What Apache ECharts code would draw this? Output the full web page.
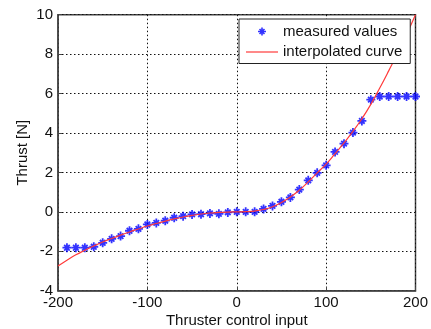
<!DOCTYPE html>
<html>
<head>
<meta charset="utf-8">
<script src="https://cdn.jsdelivr.net/npm/echarts@6/dist/echarts.min.js"></script>
<style>
html,body{margin:0;padding:0;background:#fff;}
#chart{width:431px;height:329px;}
</style>
</head>
<body>
<div id="chart"></div>
<script>
// Measured values (thruster control input -> thrust [N])
var measuredX = [-190,-180,-170,-160,-150,-140,-130,-120,-110,-100,-90,-80,-70,-60,-50,-40,-30,-20,-10,0,
                 10,20,30,40,50,60,70,80,90,100,110,120,130,140,150,160,170,180,190,200];
var measuredY = [-1.82,-1.82,-1.82,-1.77,-1.57,-1.37,-1.23,-0.96,-0.86,-0.64,-0.56,-0.45,-0.30,-0.22,-0.13,-0.12,-0.08,-0.10,-0.03,0.00,
                 0.00,0.00,0.15,0.30,0.51,0.73,1.13,1.60,1.98,2.36,3.04,3.46,4.02,4.61,5.69,5.85,5.85,5.85,5.85,5.85];
// Interpolated curve
var curveX = [-200,-190,-180,-170,-160,-150,-140,-130,-120,-110,-100,-90,-80,-70,-60,-50,-40,-30,-20,-10,0,
              10,20,30,40,50,60,70,80,90,100,110,120,130,140,150,160,170,180,190,200];
var curveY = [-2.75,-2.45,-2.18,-1.95,-1.73,-1.53,-1.35,-1.18,-1.02,-0.87,-0.72,-0.59,-0.47,-0.36,-0.26,-0.18,-0.11,-0.06,-0.03,-0.01,0.00,
              0.01,0.04,0.12,0.26,0.47,0.75,1.10,1.52,1.98,2.42,2.95,3.50,4.08,4.72,5.45,6.28,7.15,8.05,9.00,10.00];
var seriesNames = ['measured values', 'interpolated curve'];
var xTicks = {min: -200, max: 200, interval: 100};
var yTicks = {min: -4, max: 10, interval: 2};
var xLabel = 'Thruster control input';
var yLabel = 'Thrust [N]';

var asterisk = 'path://M4,0 L6,0 L6,10 L4,10 Z M0,4 L10,4 L10,6 L0,6 Z M1.2,2.6 L2.6,1.2 L8.8,7.4 L7.4,8.8 Z M7.4,1.2 L8.8,2.6 L2.6,8.8 L1.2,7.4 Z';
var lineIcon = 'path://M0,3.4 L32,3.4 L32,4.6 L0,4.6 Z';
var font = 'Liberation Sans, Arial, Helvetica, sans-serif';
var txt = '#111';

var chart = echarts.init(document.getElementById('chart'), null, {renderer: 'canvas'});
var axisCommon = {
  axisLine: {show: true, onZero: false, lineStyle: {color: '#444', width: 1.5}},
  axisTick: {show: true, inside: true, length: 4, lineStyle: {color: '#444'}},
  splitLine: {show: true, lineStyle: {color: '#111', type: [1.5, 2.5], width: 1}},
  axisLabel: {color: txt, fontFamily: font, fontSize: 15, margin: 5},
  nameTextStyle: {color: txt, fontFamily: font, fontSize: 15},
  nameMoveOverlap: false
};
chart.setOption({
  animation: false,
  backgroundColor: '#fff',
  grid: {left: 58, right: 15.5, top: 14.7, bottom: 38.3, outerBoundsMode: 'none', containLabel: false,
         show: true, borderColor: '#444', borderWidth: 1.5, backgroundColor: '#fff'},
  xAxis: Object.assign({}, axisCommon, {
    type: 'value', min: xTicks.min, max: xTicks.max, interval: xTicks.interval,
    name: xLabel, nameLocation: 'middle', nameGap: 23
  }),
  yAxis: Object.assign({}, axisCommon, {
    type: 'value', min: yTicks.min, max: yTicks.max, interval: yTicks.interval,
    name: yLabel, nameLocation: 'middle', nameGap: 28
  }),
  legend: {
    left: 239, top: 19, orient: 'vertical',
    backgroundColor: '#fff', borderColor: '#222', borderWidth: 1,
    padding: [5, 8, 4, 7], itemGap: 5.5, itemWidth: 32, itemHeight: 8,
    textStyle: {color: txt, fontFamily: font, fontSize: 15},
    data: [
      {name: seriesNames[0], icon: asterisk},
      {name: seriesNames[1], icon: lineIcon}
    ]
  },
  series: [
    {
      name: seriesNames[0], type: 'scatter', symbol: asterisk, symbolSize: 9,
      itemStyle: {color: '#0000ff'},
      data: measuredX.map(function (x, i) { return [x, measuredY[i]]; }),
      z: 2
    },
    {
      name: seriesNames[1], type: 'line', smooth: true, showSymbol: false, symbol: 'none',
      lineStyle: {color: '#ff3a3a', width: 1.2},
      itemStyle: {color: '#ff3a3a'},
      data: curveX.map(function (x, i) { return [x, curveY[i]]; }),
      z: 3
    }
  ]
});
</script>
</body>
</html>
